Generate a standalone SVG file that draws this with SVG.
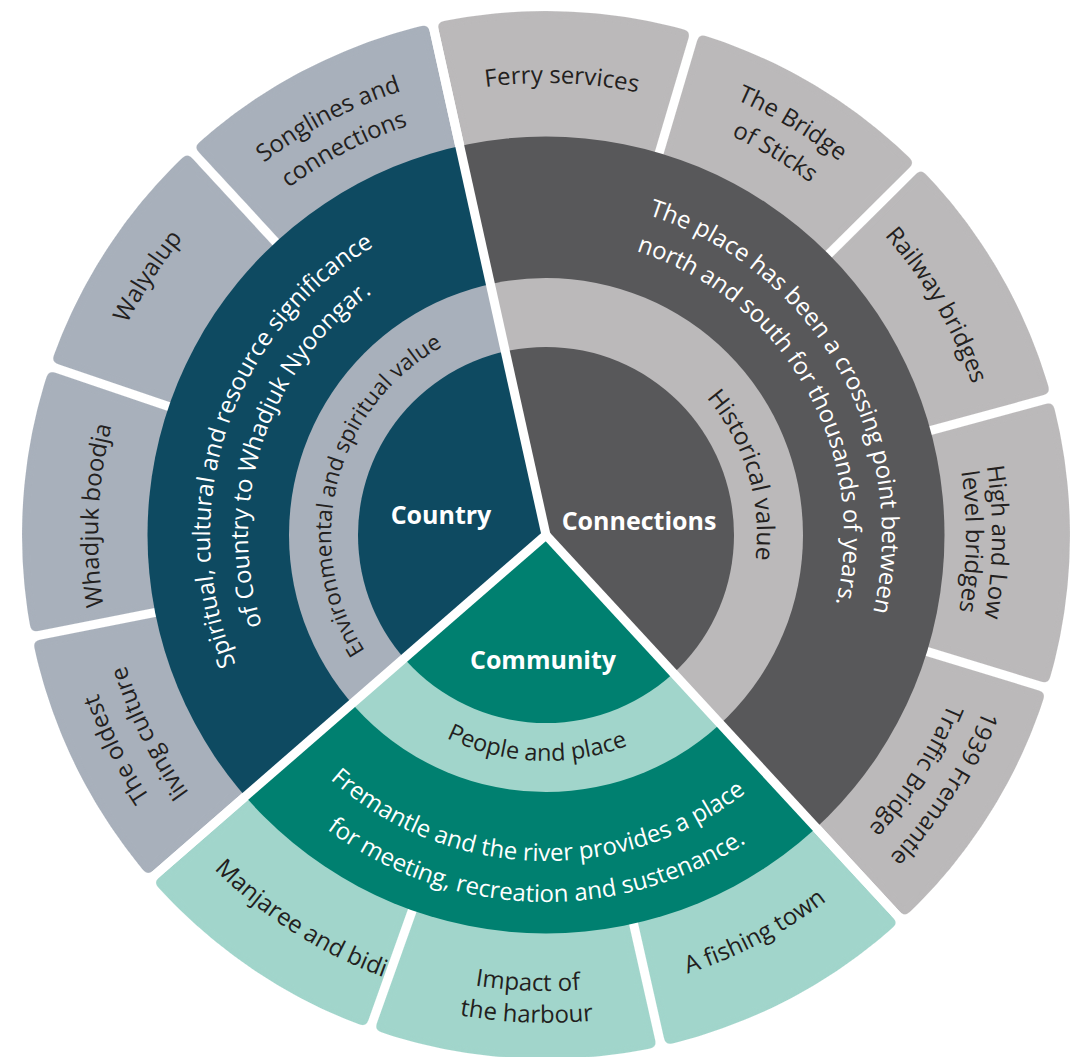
<svg xmlns="http://www.w3.org/2000/svg" width="1073" height="1057" viewBox="0 0 1073 1057">
  <style>
    text { font-family: "Open Sans", "Noto Sans", sans-serif; }
    .core { font-size: 25px; font-weight: 700; fill: #ffffff; text-anchor: middle; }
    .mid { font-size: 22.5px; fill: #231f20; }
    .desc { font-size: 24px; fill: #ffffff; }
    .item { font-size: 24px; fill: #231f20; }
    .cty-d { fill: #0e4a61; }
    .cty-l { fill: #a8b0bb; }
    .con-d { fill: #58585a; }
    .con-l { fill: #bbb9ba; }
    .com-d { fill: #008070; }
    .com-l { fill: #a1d5cb; }
  </style>
  <defs>
    <!-- wedge masks for the three sectors (centre 546,535) -->
    <clipPath id="clip-country"><polygon points="546,535 -359.6,1322.3 -595.3,164.2 286.3,-636.6"/></clipPath>
    <clipPath id="clip-connections"><polygon points="546,535 286.3,-636.6 1268.2,-423.3 1744.4,472.2 1359.8,1416.9"/></clipPath>
    <clipPath id="clip-community"><polygon points="546,535 1359.8,1416.9 483.2,1733.4 -359.6,1322.3"/></clipPath>
    <!-- white gaps between the outer tiles -->
    <mask id="gaps" maskUnits="userSpaceOnUse" x="0" y="0" width="1073" height="1057">
      <rect width="1073" height="1057" fill="#ffffff"/>
      <g stroke="#000000" stroke-width="9">
        <line x1="546" y1="535" x2="429.1" y2="7.8"/>
        <line x1="546" y1="535" x2="912.2" y2="931.8"/>
        <line x1="546" y1="535" x2="138.5" y2="889.3"/>
        <line x1="173.2" y1="608.8" x2="16.3" y2="639.9"/>
        <line x1="186.3" y1="412.5" x2="34.8" y2="361.0"/>
        <line x1="288.3" y1="255.7" x2="179.8" y2="138.2"/>
        <line x1="653.9" y1="170.7" x2="699.4" y2="17.2"/>
        <line x1="815.6" y1="267.3" x2="929.2" y2="154.5"/>
        <line x1="912.7" y1="435.4" x2="1067.1" y2="393.4"/>
        <line x1="909.4" y1="646.1" x2="1062.4" y2="692.9"/>
        <line x1="629.5" y1="905.7" x2="664.7" y2="1061.8"/>
        <line x1="418.5" y1="893.0" x2="364.8" y2="1043.7"/>
      </g>
    </mask>
    <!-- softens the corners of the outer tiles -->
    <filter id="soften" x="-5%" y="-5%" width="110%" height="110%" color-interpolation-filters="sRGB">
      <feGaussianBlur stdDeviation="3"/>
      <feComponentTransfer><feFuncA type="linear" slope="8" intercept="-3.5"/></feComponentTransfer>
    </filter>
    <!-- clockwise arcs centred on the top, rotated into place by each label -->
    <path id="cw211" d="M335 535A211 211 0 0 1 757 535"/>
    <path id="cw215" d="M331 535A215 215 0 0 1 761 535"/>
    <path id="cw298" d="M248 535A298 298 0 0 1 844 535"/>
    <path id="cw336" d="M210 535A336 336 0 0 1 882 535"/>
    <path id="cw420" d="M126 535A420 420 0 0 1 966 535"/>
    <path id="cw432" d="M114 535A432 432 0 0 1 978 535"/>
    <path id="cw436" d="M110 535A436 436 0 0 1 982 535"/>
    <path id="cw440" d="M106 535A440 440 0 0 1 986 535"/>
    <path id="cw446" d="M100 535A446 446 0 0 1 992 535"/>
    <path id="cw448" d="M98 535A448 448 0 0 1 994 535"/>
    <path id="cw452" d="M94 535A452 452 0 0 1 998 535"/>
    <path id="cw467" d="M79 535A467 467 0 0 1 1013 535"/>
    <path id="cw469" d="M77 535A469 469 0 0 1 1015 535"/>
    <path id="cw471" d="M75 535A471 471 0 0 1 1017 535"/>
    <path id="cw475" d="M71 535A475 475 0 0 1 1021 535"/>
    <!-- counter-clockwise arcs centred on the bottom -->
    <path id="ccw226" d="M320 535A226 226 0 0 0 772 535"/>
    <path id="ccw326" d="M220 535A326 326 0 0 0 872 535"/>
    <path id="ccw367" d="M179 535A367 367 0 0 0 913 535"/>
    <path id="ccw456" d="M90 535A456 456 0 0 0 1002 535"/>
    <path id="ccw461" d="M85 535A461 461 0 0 0 1007 535"/>
    <path id="ccw471" d="M75 535A471 471 0 0 0 1017 535"/>
    <path id="ccw488" d="M58 535A488 488 0 0 0 1034 535"/>
  </defs>

  <!-- Country sector -->
  <g id="country">
    <g id="country-tiles" filter="url(#soften)">
      <circle class="cty-l" cx="546" cy="535" r="524" clip-path="url(#clip-country)" mask="url(#gaps)"/>
    </g>
    <g clip-path="url(#clip-country)">
      <circle class="cty-d" cx="546" cy="535" r="398.5"/>
      <circle class="cty-l" cx="546" cy="535" r="257"/>
      <circle class="cty-d" cx="546" cy="535" r="188"/>
    </g>
    <text class="core" x="441" y="524">Country</text>
    <text class="mid" transform="rotate(-75.7 546 535)"><textPath href="#cw215" startOffset="50%" text-anchor="middle">Environmental and spiritual value</textPath></text>
    <text class="desc" transform="rotate(-71.7 546 535)"><textPath href="#cw336" startOffset="50%" text-anchor="middle">Spiritual, cultural and resource significance</textPath></text>
    <text class="desc" transform="rotate(-71.7 546 535)"><textPath href="#cw298" startOffset="50%" text-anchor="middle">of Country to Whadjuk Nyoongar.</textPath></text>
    <g id="country-items">
      <text class="item" transform="rotate(-116.5 546 535)"><textPath href="#cw475" startOffset="50%" text-anchor="middle">The oldest</textPath></text>
      <text class="item" transform="rotate(-116.5 546 535)"><textPath href="#cw440" startOffset="50%" text-anchor="middle">living culture</textPath></text>
      <text class="item" transform="rotate(-87.5 546 535)"><textPath href="#cw448" startOffset="50%" text-anchor="middle">Whadjuk boodja</textPath></text>
      <text class="item" transform="rotate(-57 546 535)"><textPath href="#cw469" startOffset="50%" text-anchor="middle">Walyalup</textPath></text>
      <text class="item" transform="rotate(-27.6 546 535)"><textPath href="#cw467" startOffset="50%" text-anchor="middle">Songlines and</textPath></text>
      <text class="item" transform="rotate(-27.6 546 535)"><textPath href="#cw432" startOffset="50%" text-anchor="middle">connections</textPath></text>
    </g>
  </g>

  <!-- Connections sector -->
  <g id="connections">
    <g id="connections-tiles" filter="url(#soften)">
      <circle class="con-l" cx="546" cy="535" r="524" clip-path="url(#clip-connections)" mask="url(#gaps)"/>
    </g>
    <g clip-path="url(#clip-connections)">
      <circle class="con-d" cx="546" cy="535" r="398.5"/>
      <circle class="con-l" cx="546" cy="535" r="257"/>
      <circle class="con-d" cx="546" cy="535" r="188"/>
    </g>
    <text class="core" x="639" y="530">Connections</text>
    <text class="mid" style="font-size:24.5px" transform="rotate(73.1 546 535)"><textPath href="#cw211" startOffset="50%" text-anchor="middle">Historical value</textPath></text>
    <text class="desc" transform="rotate(60.5 546 535)"><textPath href="#cw336" startOffset="50%" text-anchor="middle">The place has been a crossing point between</textPath></text>
    <text class="desc" transform="rotate(60.5 546 535)"><textPath href="#cw298" startOffset="50%" text-anchor="middle">north and south for thousands of years.</textPath></text>
    <g id="connections-items">
      <text class="item" transform="rotate(2 546 535)"><textPath href="#cw452" startOffset="50%" text-anchor="middle">Ferry services</textPath></text>
      <text class="item" transform="rotate(30.9 546 535)"><textPath href="#cw475" startOffset="50%" text-anchor="middle">The Bridge</textPath></text>
      <text class="item" transform="rotate(30.9 546 535)"><textPath href="#cw440" startOffset="50%" text-anchor="middle">of Sticks</textPath></text>
      <text class="item" transform="rotate(59.5 546 535)"><textPath href="#cw452" startOffset="50%" text-anchor="middle">Railway bridges</textPath></text>
      <text class="item" transform="rotate(90.9 546 535)"><textPath href="#cw446" startOffset="50%" text-anchor="middle">High and Low</textPath></text>
      <text class="item" transform="rotate(90.9 546 535)"><textPath href="#cw420" startOffset="50%" text-anchor="middle">level bridges</textPath></text>
      <text class="item" transform="rotate(122.5 546 535)"><textPath href="#cw471" startOffset="50%" text-anchor="middle">1939 Fremantle</textPath></text>
      <text class="item" transform="rotate(122.5 546 535)"><textPath href="#cw436" startOffset="50%" text-anchor="middle">Traffic Bridge</textPath></text>
    </g>
  </g>

  <!-- Community sector -->
  <g id="community">
    <g id="community-tiles" filter="url(#soften)">
      <circle class="com-l" cx="546" cy="535" r="524" clip-path="url(#clip-community)" mask="url(#gaps)"/>
    </g>
    <g clip-path="url(#clip-community)">
      <circle class="com-d" cx="546" cy="535" r="398.5"/>
      <circle class="com-l" cx="546" cy="535" r="257"/>
      <circle class="com-d" cx="546" cy="535" r="188"/>
    </g>
    <text class="core" x="543" y="669">Community</text>
    <text class="mid" style="font-size:23.5px" transform="rotate(2.45 546 535)"><textPath href="#ccw226" startOffset="50%" text-anchor="middle">People and place</textPath></text>
    <text class="desc" transform="rotate(1.8 546 535)"><textPath href="#ccw326" startOffset="50%" text-anchor="middle">Fremantle and the river provides a place</textPath></text>
    <text class="desc" transform="rotate(1.8 546 535)"><textPath href="#ccw367" startOffset="50%" text-anchor="middle">for meeting, recreation and sustenance.</textPath></text>
    <g id="community-items">
      <text class="item" transform="rotate(-27.7 546 535)"><textPath href="#ccw461" startOffset="50%" text-anchor="middle">A fishing town</textPath></text>
      <text class="item" transform="rotate(2.3 546 535)"><textPath href="#ccw456" startOffset="50%" text-anchor="middle">Impact of</textPath></text>
      <text class="item" transform="rotate(2.3 546 535)"><textPath href="#ccw488" startOffset="50%" text-anchor="middle">the harbour</textPath></text>
      <text class="item" transform="rotate(32.5 546 535)"><textPath href="#ccw471" startOffset="50%" text-anchor="middle">Manjaree and bidi</textPath></text>
    </g>
  </g>

  <!-- separators between the three sectors -->
  <g id="connectors" stroke="#ffffff" stroke-width="9">
    <line x1="546" y1="535" x2="429.1" y2="7.8"/>
    <line x1="546" y1="535" x2="912.2" y2="931.8"/>
    <line x1="546" y1="535" x2="138.5" y2="889.3"/>
    <circle cx="546" cy="535" r="4" fill="#ffffff" stroke="none"/>
  </g>
</svg>
